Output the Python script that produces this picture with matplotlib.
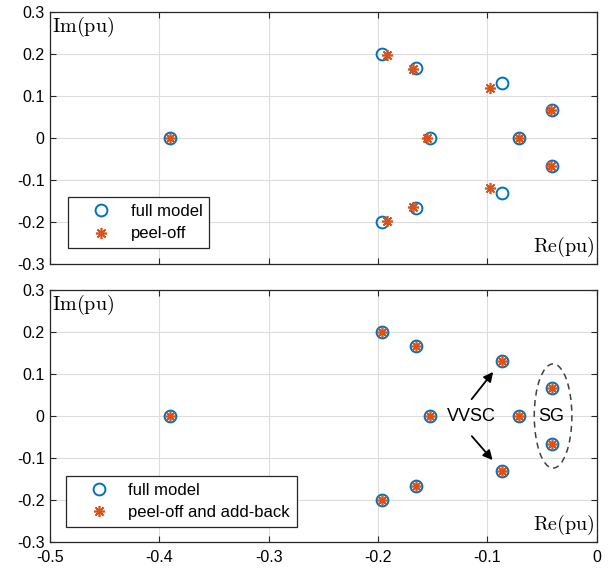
import matplotlib
matplotlib.use("Agg")
import matplotlib.pyplot as plt
from matplotlib.patches import Ellipse

plt.rcParams["font.family"] = ["Liberation Sans", "DejaVu Sans"]
plt.rcParams["mathtext.fontset"] = "cm"

# ---------------- DATA ----------------

# full model eigenvalues (real, imag)
full_re = [-0.390, -0.196, -0.196, -0.1655, -0.1655, -0.1527, -0.0863, -0.0863, -0.0707, -0.041, -0.041]
full_im = [0.0, 0.201, -0.201, 0.166, -0.166, 0.0, 0.130, -0.131, 0.0, 0.067, -0.067]

# peel-off (top panel)
peel_re = [-0.390, -0.192, -0.192, -0.168, -0.168, -0.155, -0.098, -0.098, -0.071, -0.0415, -0.0415]
peel_im = [0.0, 0.198, -0.198, 0.165, -0.165, 0.0, 0.119, -0.120, 0.0, 0.067, -0.067]

# peel-off and add-back (bottom panel)
addback_re = full_re
addback_im = full_im

xticks = [-0.5, -0.4, -0.3, -0.2, -0.1, 0]
xlabels = ["-0.5", "-0.4", "-0.3", "-0.2", "-0.1", "0"]
yticks = [-0.3, -0.2, -0.1, 0, 0.1, 0.2, 0.3]
ylabels = ["-0.3", "-0.2", "-0.1", "0", "0.1", "0.2", "0.3"]

blue = "#0072BD"
orange = "#D95319"

# ---------------- FIGURE ----------------

fig = plt.figure(figsize=(6.13, 5.71), dpi=100)
ax1 = fig.add_axes([0.0816, 0.5377, 0.892, 0.4413])
ax2 = fig.add_axes([0.0816, 0.0508, 0.892, 0.4413])


def style_axes(ax, show_xlabels):
    ax.set_xlim(-0.5, 0)
    ax.set_ylim(-0.3, 0.3)
    ax.set_xticks(xticks)
    ax.set_yticks(yticks)
    ax.set_yticklabels(ylabels, fontsize=11.5)
    if show_xlabels:
        ax.set_xticklabels(xlabels, fontsize=11.5)
    else:
        ax.set_xticklabels([])
    ax.tick_params(direction="in", top=True, right=True, length=4, width=0.8,
                   color="#262626")
    ax.tick_params(axis="x", pad=6)
    ax.tick_params(axis="y", pad=4)
    ax.grid(True, color="#dcdcdc", linewidth=0.8)
    ax.set_axisbelow(True)
    for s in ax.spines.values():
        s.set_color("#262626")
        s.set_linewidth(0.9)
    ax.text(0.004, 0.99, r"$\mathrm{Im(pu)}$", transform=ax.transAxes,
            ha="left", va="top", fontsize=14.5)
    ax.text(0.997, 0.02, r"$\mathrm{Re(pu)}$", transform=ax.transAxes,
            ha="right", va="bottom", fontsize=14.5)


star = (8, 2, 0)
leg_kw = dict(loc="lower left", fontsize=12, fancybox=False,
              edgecolor="#262626", framealpha=1, handlelength=3.2,
              handletextpad=0.15, borderpad=0.4, labelspacing=0.45,
              borderaxespad=0)

# top panel
ax1.plot(full_re, full_im, linestyle="none", marker="o", markersize=8.5,
         markerfacecolor="none", markeredgecolor=blue, markeredgewidth=1.4,
         label="full model")
ax1.plot(peel_re, peel_im, linestyle="none", marker=star, markersize=8,
         color=orange, markeredgewidth=1.2, label="peel-off")
style_axes(ax1, False)
leg1 = ax1.legend(bbox_to_anchor=(0.033, 0.063), **leg_kw)
leg1.get_frame().set_linewidth(0.9)

# bottom panel
ax2.plot(full_re, full_im, linestyle="none", marker="o", markersize=8.5,
         markerfacecolor="none", markeredgecolor=blue, markeredgewidth=1.4,
         label="full model")
ax2.plot(addback_re, addback_im, linestyle="none", marker=star, markersize=8,
         color=orange, markeredgewidth=1.2, label="peel-off and add-back")
style_axes(ax2, True)
leg2 = ax2.legend(bbox_to_anchor=(0.029, 0.06), **leg_kw)
leg2.get_frame().set_linewidth(0.9)

# annotations
ax2.text(-0.1145, 0.0, "VVSC", ha="center", va="center", fontsize=13)
ax2.annotate("", xy=(-0.0948, 0.105), xytext=(-0.1145, 0.040),
             arrowprops=dict(arrowstyle="-|>", color="black", lw=1.3,
                             mutation_scale=14, shrinkA=0, shrinkB=0))
ax2.annotate("", xy=(-0.0953, -0.105), xytext=(-0.1143, -0.048),
             arrowprops=dict(arrowstyle="-|>", color="black", lw=1.3,
                             mutation_scale=14, shrinkA=0, shrinkB=0))
ax2.text(-0.0415, 0.0, "SG", ha="center", va="center", fontsize=13)
ax2.add_patch(Ellipse((-0.040, 0.0), 0.0344, 0.248, fill=False,
                      edgecolor="#404040", linestyle=(0, (4, 3)), linewidth=1.1))

fig.savefig("out.png", dpi=100)
